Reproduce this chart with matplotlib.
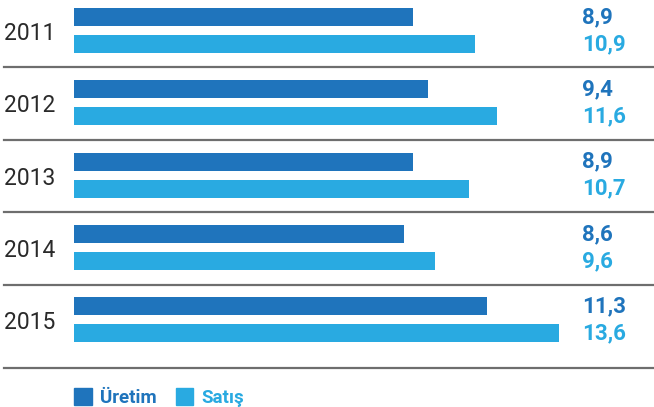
import numpy as np
import matplotlib.pyplot as plt
from matplotlib.patches import Patch
from matplotlib.transforms import blended_transform_factory

# data
years = ['2011', '2012', '2013', '2014', '2015']
uretim = [8.9, 9.4, 8.9, 8.6, 11.3]
satis = [10.9, 11.6, 10.7, 9.6, 13.6]
series_names = ['Üretim', 'Satış']

dark_blue = '#1f74bc'
light_blue = '#29aae1'
line_color = '#6e6e6e'

plt.rcParams['font.family'] = ['Roboto', 'DejaVu Sans']

fig = plt.figure(figsize=(6.54, 4.07), dpi=100)
ax = fig.add_axes([0, 0, 1, 1])
ax.axis('off')

# value axis starts a bit below zero, bars begin at the baseline
base = -2.04
px = 31.0  # pixels per unit
x_left = base - 73.75 / px
ax.set_xlim(x_left, x_left + 654 / px)
ax.set_ylim(407, 0)

pitch = 72.3
bar_h = 18
tr = blended_transform_factory(ax.transAxes, ax.transData)

for i, yr in enumerate(years):
    top = 8 + pitch * i
    y_u = top + bar_h / 2
    y_s = top + 27 + bar_h / 2
    ax.barh(y_u, uretim[i] - base, left=base, height=bar_h, color=dark_blue)
    ax.barh(y_s, satis[i] - base, left=base, height=bar_h, color=light_blue)
    ax.text(4 / 654, (y_u + y_s) / 2 + 3, yr, transform=tr, ha='left', va='center',
            fontsize=16.5, color='#2a2a2a')
    ax.text(582 / 654, y_u, f'{uretim[i]:.1f}'.replace('.', ','), transform=tr,
            ha='left', va='center', fontsize=16, fontweight='bold', color=dark_blue)
    ax.text(582 / 654, y_s, f'{satis[i]:.1f}'.replace('.', ','), transform=tr,
            ha='left', va='center', fontsize=16, fontweight='bold', color=light_blue)

# separators
for y in [67, 139.5, 212, 285, 368]:
    ax.axhline(y, xmin=4 / 654, xmax=1, color=line_color, linewidth=1.6)

handles = [Patch(color=dark_blue), Patch(color=light_blue)]
leg = ax.legend(handles, series_names, loc='lower left', bbox_to_anchor=(57 / 654, -0.042),
                ncol=2, frameon=False, handlelength=0.95, handleheight=1.0,
                handletextpad=0.45, columnspacing=1.0,
                prop={'weight': 'bold', 'size': 13.5})
for t, c in zip(leg.get_texts(), [dark_blue, light_blue]):
    t.set_color(c)

fig.savefig('out.png', dpi=100)
